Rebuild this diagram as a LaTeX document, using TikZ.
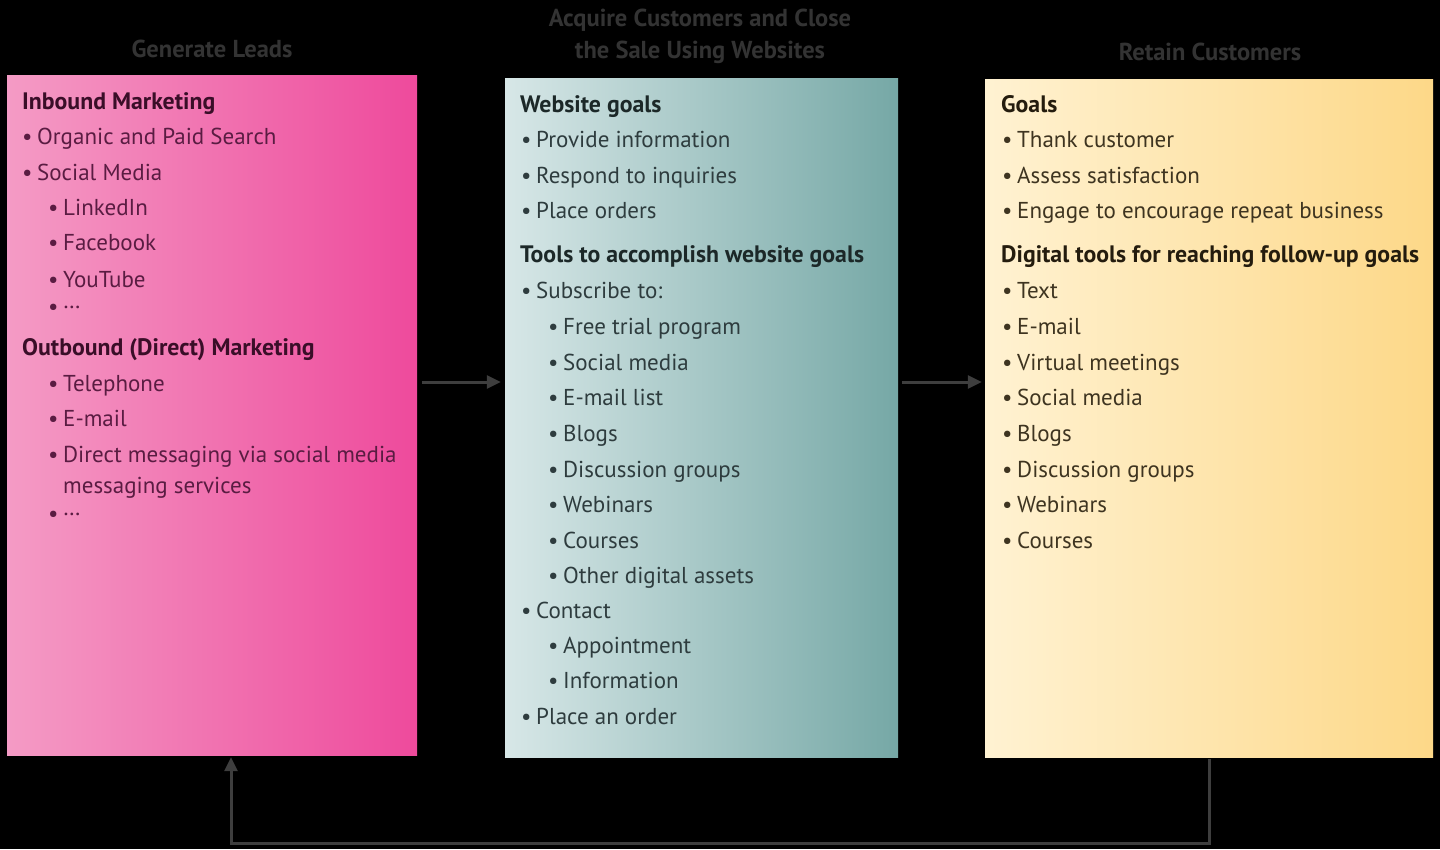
\documentclass[tikz,border=0pt]{standalone}
\usepackage{fontspec}
\setmainfont{PT Sans}
\usetikzlibrary{arrows.meta}
\definecolor{pinkL}{HTML}{F49BC5}
\definecolor{pinkR}{HTML}{EE4A9C}
\definecolor{pinktext}{HTML}{5A1C42}
\definecolor{pinkhead}{HTML}{3A0E28}
\definecolor{tealL}{HTML}{D7E7E7}
\definecolor{tealR}{HTML}{76A8A6}
\definecolor{tealtext}{HTML}{2E3C3E}
\definecolor{tealhead}{HTML}{1C2828}
\definecolor{creamL}{HTML}{FFF2D2}
\definecolor{creamR}{HTML}{FDD888}
\definecolor{creamtext}{HTML}{3E3420}
\definecolor{creamhead}{HTML}{241C0E}
\definecolor{titlegray}{HTML}{333333}
\definecolor{arrgray}{HTML}{3E3E3E}
\newcommand\mybul{\makebox[13pt][l]{\hspace{-2pt}\textbullet}}
\newcommand\mydots{\raisebox{0.22em}{…}}
\tikzset{
  boxL/.style={minimum width=410pt, minimum height=680pt, inner sep=0pt, left color=pinkL, right color=pinkR},
  boxC/.style={minimum width=393pt, minimum height=679pt, inner sep=0pt, left color=tealL, right color=tealR},
  boxR/.style={minimum width=448pt, minimum height=678pt, inner sep=0pt, left color=creamL, right color=creamR},
  head/.style={anchor=base west, inner sep=0pt, font=\fontsize{23.8}{28}\selectfont\bfseries},
  item/.style={anchor=base west, inner sep=0pt, font=\fontsize{23}{27}\selectfont},
  dotsitem/.style={anchor=base west, inner sep=0pt, font=\fontsize{23}{27}\selectfont, text height=8pt, text depth=0pt},
  ttl/.style={font=\fontsize{24.5}{32}\selectfont\bfseries, text=titlegray, align=center, inner sep=0pt},
  arr/.style={draw=arrgray, line width=3pt, -{Triangle[length=14pt,width=13pt]}},
}
\begin{document}
\begin{tikzpicture}[x=1pt,y=-1pt]
\fill[black] (0,0) rectangle (1440,849);
\useasboundingbox (0,0) rectangle (1440,849);

% titles
\node[ttl] (t1) at (212,49) {Generate Leads};
\node[ttl] (t2) at (700,36) {Acquire Customers and Close\\the Sale Using Websites};
\node[ttl] (t3) at (1210,52) {Retain Customers};

% boxes
\node[boxL] (L) at (212,415) {};
\node[boxC] (C) at (701.5,417.5) {};
\node[boxR] (R) at (1209,418) {};

% left box text
\begin{scope}[every node/.append style={text=pinktext}]
\node[head,text=pinkhead] (l1) at (22,109) {Inbound Marketing};
\node[item] (l2) at (24,144) {\mybul Organic and Paid Search};
\node[item] (l3) at (24,180) {\mybul Social Media};
\node[item] (l4) at (50,215) {\mybul LinkedIn};
\node[item] (l5) at (50,250) {\mybul Facebook};
\node[item] (l6) at (50,287) {\mybul YouTube};
\node[dotsitem] (l7) at (50,314) {\mybul \mydots};
\node[head,text=pinkhead] (l8) at (22,355) {Outbound (Direct) Marketing};
\node[item] (l9) at (50,391) {\mybul Telephone};
\node[item] (l10) at (50,426) {\mybul E-mail};
\node[item] (l11) at (50,462) {\mybul Direct messaging via social media};
\node[item] (l12) at (63,493) {messaging services};
\node[dotsitem] (l13) at (50,521) {\mybul \mydots};
\end{scope}

% center box text
\begin{scope}[every node/.append style={text=tealtext}]
\node[head,text=tealhead] (c1) at (520,112) {Website goals};
\node[item] (c2) at (523,147) {\mybul Provide information};
\node[item] (c3) at (523,183) {\mybul Respond to inquiries};
\node[item] (c4) at (523,218) {\mybul Place orders};
\node[head,text=tealhead] (c5) at (520,262) {Tools to accomplish website goals};
\node[item] (c6) at (523,298) {\mybul Subscribe to:};
\node[item] (c7) at (550,334) {\mybul Free trial program};
\node[item] (c8) at (550,370) {\mybul Social media};
\node[item] (c9) at (550,405) {\mybul E-mail list};
\node[item] (c10) at (550,441) {\mybul Blogs};
\node[item] (c11) at (550,477) {\mybul Discussion groups};
\node[item] (c12) at (550,512) {\mybul Webinars};
\node[item] (c13) at (550,548) {\mybul Courses};
\node[item] (c14) at (550,583) {\mybul Other digital assets};
\node[item] (c15) at (523,618) {\mybul Contact};
\node[item] (c16) at (550,653) {\mybul Appointment};
\node[item] (c17) at (550,688) {\mybul Information};
\node[item] (c18) at (523,724) {\mybul Place an order};
\end{scope}

% right box text
\begin{scope}[every node/.append style={text=creamtext}]
\node[head,text=creamhead] (r1) at (1001,112) {Goals};
\node[item] (r2) at (1004,147) {\mybul Thank customer};
\node[item] (r3) at (1004,183) {\mybul Assess satisfaction};
\node[item] (r4) at (1004,218) {\mybul Engage to encourage repeat business};
\node[head,text=creamhead] (r5) at (1001,262) {Digital tools for reaching follow-up goals};
\node[item] (r6) at (1004,298) {\mybul Text};
\node[item] (r7) at (1004,334) {\mybul E-mail};
\node[item] (r8) at (1004,370) {\mybul Virtual meetings};
\node[item] (r9) at (1004,405) {\mybul Social media};
\node[item] (r10) at (1004,441) {\mybul Blogs};
\node[item] (r11) at (1004,477) {\mybul Discussion groups};
\node[item] (r12) at (1004,512) {\mybul Webinars};
\node[item] (r13) at (1004,548) {\mybul Courses};
\end{scope}

% connectors
\coordinate (m1) at (460,382);
\coordinate (fb) at (231,843);
\draw[arr] ([xshift=5pt]L.east |- m1) -- ([xshift=-4pt]C.west |- m1);
\draw[arr] ([xshift=4pt]C.east |- m1) -- ([xshift=-3pt]R.west |- m1);
\draw[arr] ([yshift=-2pt]R.south) |- (fb) -- ([yshift=-2pt]fb |- L.south);
\end{tikzpicture}
\end{document}
